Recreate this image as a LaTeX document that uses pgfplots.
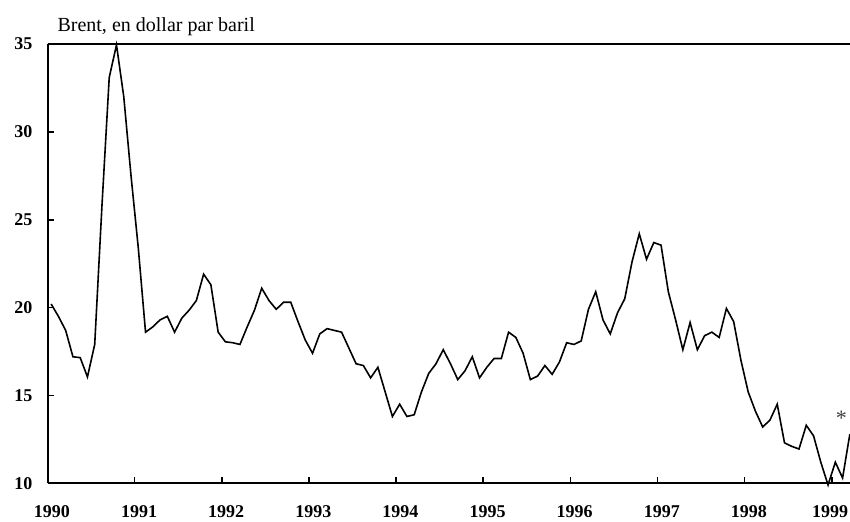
\documentclass[border=0pt]{standalone}
\usepackage{fontspec}
\setmainfont{Liberation Serif}
\usepackage{pgfplots}
\usepackage{pgfplotstable}
\pgfplotsset{compat=1.18}
\pgfplotstableread{
v
20.2
19.5
18.7
17.2
17.15
16.05
17.9
25.8
33.1
34.95
32.0
27.5
23.4
18.6
18.9
19.3
19.5
18.6
19.4
19.85
20.4
21.9
21.3
18.6
18.05
18.0
17.9
18.9
19.85
21.1
20.4
19.9
20.3
20.3
19.2
18.15
17.4
18.5
18.8
18.7
18.6
17.7
16.8
16.7
16.0
16.6
15.2
13.8
14.5
13.8
13.9
15.2
16.25
16.8
17.6
16.8
15.9
16.4
17.2
16.0
16.6
17.1
17.1
18.6
18.3
17.4
15.9
16.1
16.7
16.2
16.9
18.0
17.9
18.1
19.9
20.9
19.3
18.5
19.7
20.5
22.6
24.2
22.75
23.7
23.55
20.9
19.3
17.6
19.15
17.6
18.4
18.6
18.3
19.95
19.2
17.0
15.2
14.1
13.2
13.6
14.5
12.3
12.1
11.95
13.3
12.7
11.2
9.9
11.2
10.3
12.8
}\brent
\begin{document}
\begin{tikzpicture}
\begin{axis}[
  scale only axis,
  width=401pt, height=219.5pt,
  xmin=1990, xmax=1999.21,
  ymin=10, ymax=35,
  clip=false,
  axis x line*=bottom, axis y line*=left,
  axis line style={line width=1pt, -},
  xtick={1990,1991,...,1998},
  extra x ticks={1999},
  extra x tick style={xticklabel style={xshift=-3pt}},
  ytick={10,15,20,25,30,35},
  tick align=inside,
  major tick length=3pt,
  tick style={line width=0.8pt, black},
  /pgf/number format/1000 sep={},
  /pgf/number format/assume math mode=true,
  ticklabel style={font=\bfseries\fontsize{9}{10}\selectfont},
  xticklabel style={xshift=2.2pt, yshift=-7.8pt},
  yticklabel style={xshift=-4pt},
]
\addplot[black, line width=0.8pt] table[x expr={1990+1/24+\coordindex/12}, y=v] {\brent};
\draw[line width=1pt] (rel axis cs:0,1) -- (rel axis cs:1,1);
\node[anchor=base west, inner sep=0pt, font=\fontsize{10}{12}\selectfont] at ([xshift=4.8pt,yshift=6.3pt]rel axis cs:0,1) {Brent, en dollar par baril};
\node[font=\fontsize{11}{12}\selectfont, text=black!75] at (axis cs:1999.11,13.7) {*};
\end{axis}
\pgfresetboundingbox
\path[use as bounding box] ([xshift=-23.75pt,yshift=-19pt]current axis.south west) rectangle ([yshift=22pt]current axis.north east);
\end{tikzpicture}
\end{document}
